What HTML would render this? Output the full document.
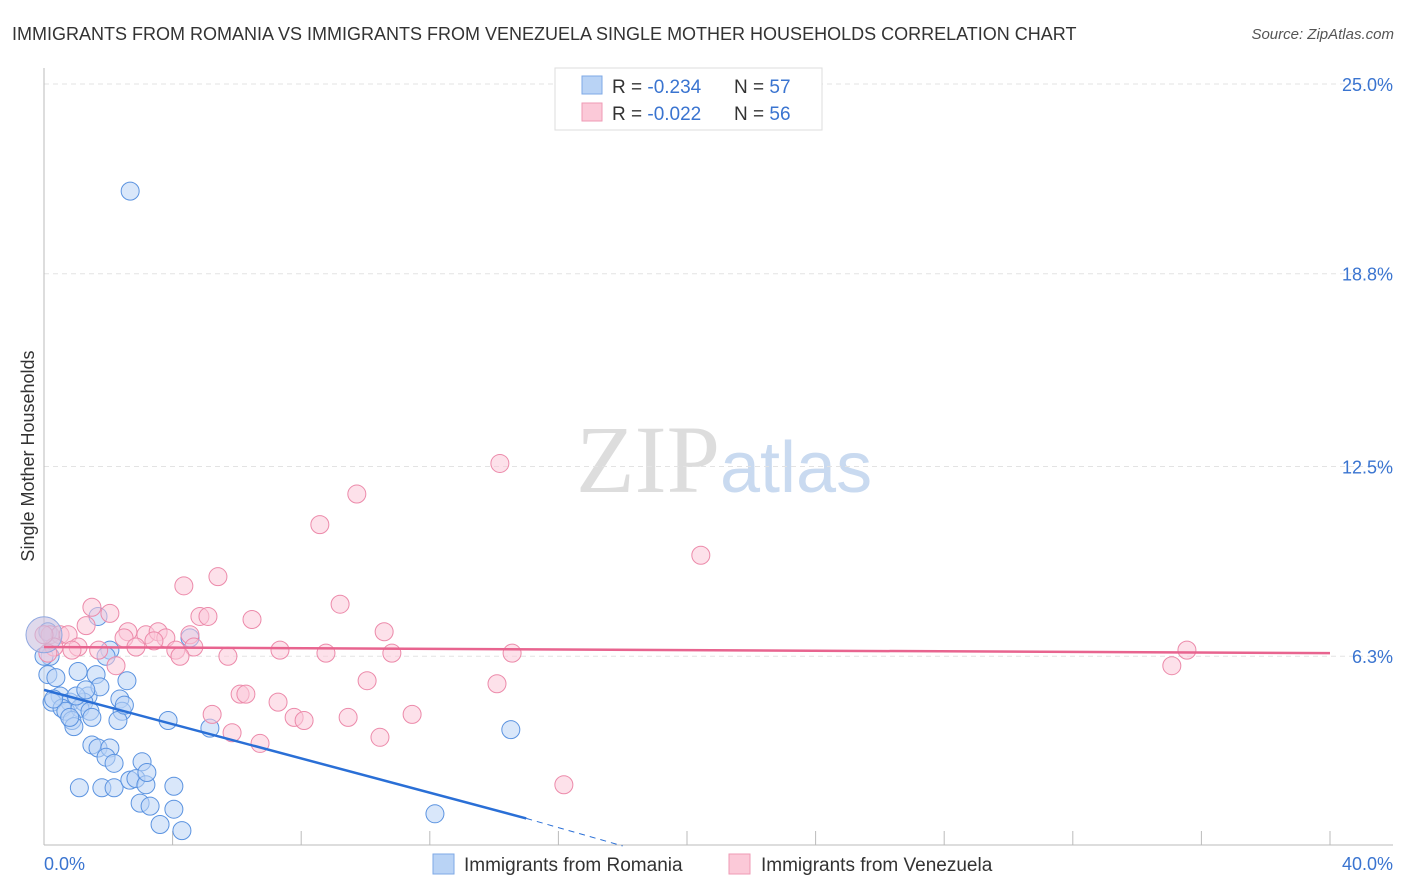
<!DOCTYPE html>
<html><head><meta charset="utf-8"><style>
body{margin:0;background:#fff;font-family:"Liberation Sans",sans-serif}
svg{display:block}
</style></head><body>
<svg width="1406" height="892">
<text x="12" y="40" font-size="18" fill="#333">IMMIGRANTS FROM ROMANIA VS IMMIGRANTS FROM VENEZUELA SINGLE MOTHER HOUSEHOLDS CORRELATION CHART</text>
<text x="1394" y="39" font-size="15" fill="#555" font-style="italic" text-anchor="end">Source: ZipAtlas.com</text>
<text x="720" y="492" font-size="96" fill="#ddd" text-anchor="end" font-family="Liberation Serif">ZIP</text>
<text x="720" y="492" font-size="72" fill="#c9daf0">atlas</text>
<g id="grid"></g>
<g id="axes"></g>
<g id="points"></g>
<g id="trends"></g>
<text x="34" y="456" font-size="18" fill="#333" text-anchor="middle" transform="rotate(-90 34 456)">Single Mother Households</text>
<text x="44" y="870" font-size="18" fill="#3a74d0">0.0%</text>
<text x="1393" y="870" font-size="18" fill="#3a74d0" text-anchor="end">40.0%</text>
<g>
<rect x="555" y="68" width="267" height="62" fill="#fff" stroke="#ddd"/>
<rect x="582" y="76" width="20" height="18" fill="#b9d3f5" stroke="#7ea8e6"/>
<rect x="582" y="103" width="20" height="18" fill="#fbc9d8" stroke="#ef9ab5"/>
<text x="612" y="93" font-size="19" fill="#333">R = <tspan fill="#3a74d0">-0.234</tspan><tspan x="734">N = </tspan><tspan fill="#3a74d0">57</tspan></text>
<text x="612" y="120" font-size="19" fill="#333">R = <tspan fill="#3a74d0">-0.022</tspan><tspan x="734">N = </tspan><tspan fill="#3a74d0">56</tspan></text>
</g>
<g>
<rect x="433" y="854" width="21" height="20" fill="#b9d3f5" stroke="#7ea8e6"/>
<text x="464" y="871" font-size="19" fill="#333">Immigrants from Romania</text>
<rect x="729" y="854" width="21" height="20" fill="#fbc9d8" stroke="#ef9ab5"/>
<text x="761" y="871" font-size="19" fill="#333">Immigrants from Venezuela</text>
</g>
</svg>
<script>
const yTicks=[6.3,12.5,18.8,25.0];
const xTicks=[0,4,8,12,16,20,24,28,32,36,40];
const romaniaX=[2.68,0.12,0.37,1.06,1.62,2.58,0.5,0.25,0.81,1.37,1.24,1.74,0.56,0.68,1.12,1.43,2.36,2.43,0.87,0.93,1.49,2.3,2.05,1.93,1.68,3.86,4.54,5.16,14.52,1.49,1.68,2.05,1.93,2.18,3.05,1.8,2.18,2.67,2.86,3.17,4.04,2.99,3.3,3.61,4.04,4.29,12.16,0.12,0.19,0.0,0.3,1.0,2.5,1.3,0.8,3.2,1.1];
const romaniaY=[21.5,5.7,5.6,5.8,5.7,5.5,5.0,4.8,4.8,5.0,4.8,5.3,4.6,4.5,4.6,4.5,4.9,4.5,4.2,4.0,4.3,4.2,6.5,6.3,7.6,4.2,6.9,3.95,3.9,3.4,3.3,3.3,3.0,2.8,2.85,2.0,2.0,2.25,2.3,2.1,2.05,1.5,1.4,0.8,1.3,0.6,1.15,7.1,6.3,6.3,4.9,5.0,4.7,5.2,4.3,2.5,2.0];
const venezuelaX=[14.18,9.73,8.58,20.43,4.35,5.41,1.49,2.05,9.21,4.85,5.1,6.47,1.31,2.61,3.17,3.55,3.79,4.54,2.49,2.86,3.42,4.66,4.1,4.23,5.72,7.34,8.77,10.58,10.82,14.56,35.55,35.08,14.09,10.05,2.24,0.19,0.5,0.75,0.31,0.12,1.06,0.87,6.1,6.28,7.28,5.23,7.78,8.09,9.46,11.45,5.85,6.72,10.45,16.17,0.0,1.7];
const venezuelaY=[12.6,11.6,10.6,9.6,8.6,8.9,7.9,7.7,8.0,7.6,7.6,7.5,7.3,7.1,7.0,7.1,6.9,7.0,6.9,6.6,6.8,6.6,6.5,6.3,6.3,6.5,6.4,7.1,6.4,6.4,6.5,5.99,5.4,5.5,5.99,7.0,7.0,7.0,6.6,6.4,6.6,6.5,5.06,5.06,4.8,4.4,4.3,4.2,4.3,4.4,3.8,3.45,3.65,2.1,7.0,6.5];
const romaniaTrend=[0,5.2,15,1.0,18,0.1];
const venezuelaTrend=[0,6.6,40,6.4];
const X=v=>44+v*32.15, Y=v=>849-v*30.6;
const NS="http://www.w3.org/2000/svg";
function mk(t,a,p){const e=document.createElementNS(NS,t);for(const k in a)e.setAttribute(k,a[k]);p.appendChild(e);return e;}
const grid=document.getElementById('grid'),axes=document.getElementById('axes'),pts=document.getElementById('points'),tr=document.getElementById('trends');
yTicks.forEach(v=>{
 const l=mk('line',{x1:44,x2:1393,y1:Y(v),y2:Y(v),stroke:'#e3e3e3','stroke-dasharray':'5,4'},grid);
 
 
 const t=mk('text',{x:1393,y:Y(v)+7,'font-size':18,fill:'#3a74d0','text-anchor':'end'},grid);
 t.textContent=v.toFixed(1)+'%';
 
 
});
const ax=mk('line',{x1:44,x2:44,y1:68,y2:845,stroke:'#bbb'},axes);


const bx=mk('line',{x1:44,x2:1393,y1:845,y2:845,stroke:'#bbb'},axes);


xTicks.forEach(v=>{
 const l=mk('line',{x1:X(v),x2:X(v),y1:831,y2:845,stroke:'#bbb'},axes);
 
 
});
function series(xs,ys,fill,stroke,name){
 xs.forEach((x,i)=>{
  const c=mk('circle',{cx:X(x),cy:Y(ys[i]),r:9,fill:fill,'fill-opacity':0.55,stroke:stroke,'stroke-width':1},pts);
  
  
 });
}
series(romaniaX,romaniaY,'#b9d3f5','#5b93e0','romania-point');
series(venezuelaX,venezuelaY,'#fbc9d8','#ec8aaa','venezuela-point');
const big=mk('circle',{cx:X(0),cy:Y(7.0),r:18,fill:'#c9c0e0','fill-opacity':0.6,stroke:'#8fa8e0'},pts);


const rt=romaniaTrend;
const b1=mk('line',{x1:X(rt[0]),y1:Y(rt[1]),x2:X(rt[2]),y2:Y(rt[3]),stroke:'#2a6fd6','stroke-width':2.5},tr);


const b2=mk('line',{x1:X(rt[2]),y1:Y(rt[3]),x2:X(rt[4]),y2:Y(rt[5]),stroke:'#2a6fd6','stroke-width':1,'stroke-dasharray':'6,5'},tr);


const vt=venezuelaTrend;
const p1=mk('line',{x1:X(vt[0]),y1:Y(vt[1]),x2:X(vt[2]),y2:Y(vt[3]),stroke:'#e8648f','stroke-width':2.5},tr);


</script>
</body></html>
